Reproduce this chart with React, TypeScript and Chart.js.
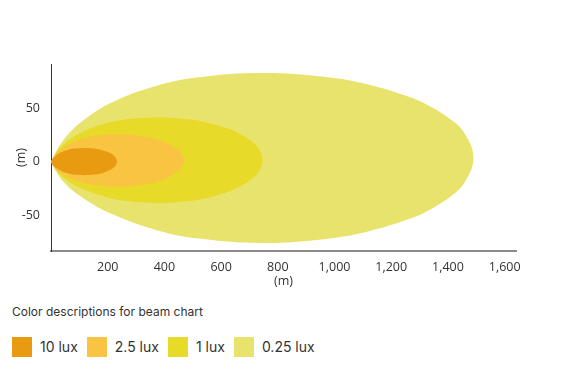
import React, { useEffect, useRef } from 'react';
import { Chart, registerables } from 'chart.js';

Chart.register(...registerables);

// Beam categories (drawn from the largest area to the smallest)
const BEAM_LABELS = ['10 lux', '2.5 lux', '1 lux', '0.25 lux'];
const BEAM_COLORS = ['#E89A10', '#F9C441', '#E7DA29', '#E8E36D'];

// Outline of each beam: distance (m), upper edge (m), lower edge (m)
const LUX10_X = [0, 7, 19, 35, 58, 82, 117, 151, 175, 198, 210, 221, 228, 233];
const LUX10_UP = [0, 3.3, 6.2, 8.9, 11.2, 12.5, 13.1, 12.5, 11.4, 9.4, 8.0, 5.9, 3.9, 0.3];
const LUX10_DOWN = [0, -3.1, -5.8, -8.3, -10.6, -11.9, -12.5, -11.9, -10.8, -8.8, -7.4, -5.3, -3.3, 0.3];

const LUX2_5_X = [0, 14, 37, 70, 117, 164, 234, 304, 351, 398, 421, 445, 459, 468];
const LUX2_5_UP = [0, 6.5, 12.3, 17.5, 22.2, 24.6, 25.9, 24.7, 22.5, 18.9, 16.05, 11.95, 8.15, 1.25];
const LUX2_5_DOWN = [0, -5.9, -10.9, -15.5, -19.8, -22.2, -23.4, -22.2, -20.0, -16.4, -13.55, -9.45, -5.65, 1.25];

const LUX1_X = [0, 22, 60, 112, 187, 261, 373, 485, 560, 634, 671, 709, 731, 746];
const LUX1_UP = [0, 10.5, 19.8, 28.2, 35.6, 39.6, 41.6, 39.8, 36.2, 30.2, 25.6, 19.0, 12.8, 1.6];
const LUX1_DOWN = [0, -9.5, -17.8, -25.4, -32.4, -36.4, -38.4, -36.6, -33.0, -27.0, -22.4, -15.8, -9.6, 1.6];

const LUX0_25_X = [0, 45, 119, 224, 373, 522, 745, 969, 1118, 1267, 1341, 1416, 1460, 1490];
const LUX0_25_UP = [0, 20.9, 39.9, 56.8, 71.3, 79.2, 83.2, 79.5, 72.5, 60.5, 51.4, 38.4, 26.0, 3.7];
const LUX0_25_DOWN = [0, -18.9, -34.9, -49.8, -63.9, -71.8, -75.8, -72.1, -65.1, -53.1, -44.0, -31.0, -18.6, 3.7];

// Axes
const X_MIN = 0;
const X_MAX = 1640;
const Y_MIN = -83.4;
const Y_MAX = 91.6;
const X_TICKS = [200, 400, 600, 800, 1000, 1200, 1400, 1600];
const Y_TICKS = [-50, 0, 50];
const X_TITLE = '(m)';
const Y_TITLE = '(m)';
const LEGEND_TITLE = 'Color descriptions for beam chart';

function outline(xs: number[], up: number[], down: number[]) {
  const top = xs.map((x, i) => ({ x, y: up[i] }));
  const bottom = xs
    .slice(0, -1)
    .map((x, i) => ({ x, y: down[i] }))
    .reverse();
  return top.concat(bottom);
}

const SHAPES = [
  outline(LUX10_X, LUX10_UP, LUX10_DOWN),
  outline(LUX2_5_X, LUX2_5_UP, LUX2_5_DOWN),
  outline(LUX1_X, LUX1_UP, LUX1_DOWN),
  outline(LUX0_25_X, LUX0_25_UP, LUX0_25_DOWN),
];

// Fills the closed outline path that Chart.js builds for each line dataset
const shapeFillPlugin = {
  id: 'shapeFill',
  beforeDatasetDraw(chart: any, args: any) {
    const meta = args.meta;
    const line = meta.dataset;
    if (!line) return;
    const ctx = chart.ctx;
    const area = chart.chartArea;
    line.updateControlPoints(area, 'x');
    ctx.save();
    ctx.beginPath();
    ctx.rect(area.left, area.top, area.right - area.left, area.bottom - area.top);
    ctx.clip();
    ctx.beginPath();
    line.path(ctx);
    ctx.closePath();
    ctx.fillStyle = chart.data.datasets[args.index].backgroundColor;
    ctx.fill();
    ctx.restore();
  },
};

const TICK_FONT = { family: "'Open Sans', sans-serif", size: 12.5 };

export default function App() {
  const ref = useRef<HTMLCanvasElement | null>(null);

  useEffect(() => {
    if (!ref.current) return;
    const chart = new Chart(ref.current, {
      type: 'line',
      data: {
        datasets: SHAPES.map((pts, i) => ({
          label: BEAM_LABELS[i],
          data: pts,
          backgroundColor: BEAM_COLORS[i],
          borderColor: 'rgba(0,0,0,0)',
          borderWidth: 0,
          pointRadius: 0,
          pointHoverRadius: 0,
          tension: 0.4,
          fill: false,
          order: i + 1,
        })),
      },
      options: {
        animation: false,
        responsive: false,
        devicePixelRatio: 1,
        events: [],
        layout: { padding: { left: 2, top: 56, right: 59, bottom: 5 } },
        plugins: {
          legend: { display: false },
          tooltip: { enabled: false },
          title: { display: false },
        },
        scales: {
          x: {
            type: 'linear',
            min: X_MIN,
            max: X_MAX,
            z: 1,
            afterBuildTicks: (scale: any) => {
              scale.ticks = X_TICKS.map((v) => ({ value: v }));
            },
            afterFit: (scale: any) => {
              scale.height = 42;
            },
            ticks: {
              autoSkip: false,
              maxRotation: 0,
              padding: 9,
              color: '#333',
              font: TICK_FONT,
              callback: (v: any) => Number(v).toLocaleString('en-US'),
            },
            grid: {
              color: 'rgba(255,255,255,0.4)',
              lineWidth: 1,
              drawTicks: false,
            },
            border: { display: true, color: '#8a8a8a', width: 2 },
            title: {
              display: true,
              text: X_TITLE,
              color: '#333',
              font: TICK_FONT,
              padding: { top: 4, bottom: 4 },
            },
          },
          y: {
            type: 'linear',
            min: Y_MIN,
            max: Y_MAX,
            z: 1,
            afterBuildTicks: (scale: any) => {
              scale.ticks = Y_TICKS.map((v) => ({ value: v }));
            },
            afterFit: (scale: any) => {
              scale.width = 41;
            },
            ticks: {
              autoSkip: false,
              padding: 11,
              color: '#333',
              font: TICK_FONT,
              callback: (v: any) => String(v),
            },
            grid: {
              color: 'rgba(255,255,255,0.4)',
              lineWidth: 1,
              drawTicks: false,
            },
            border: { display: true, color: '#333', width: 1 },
            title: {
              display: true,
              text: Y_TITLE,
              color: '#333',
              font: TICK_FONT,
              padding: { top: 4, bottom: 4 },
            },
          },
        },
      },
      plugins: [shapeFillPlugin],
    } as any);
    return () => chart.destroy();
  }, []);

  return (
    <div style={{ width: 567 }}>
      <canvas ref={ref} width={567} height={290} style={{ display: 'block', width: 567, height: 290 }} />
      <div style={{ padding: '6px 0 0 4px', fontFamily: "Inter, 'Noto Sans', sans-serif", color: '#333' }}>
        <div style={{ fontSize: 12, lineHeight: '15px', marginBottom: 18 }}>{LEGEND_TITLE}</div>
        <div style={{ display: 'flex', alignItems: 'center', height: 20 }}>
          {BEAM_LABELS.map((label, i) => (
            <div key={label} style={{ display: 'flex', alignItems: 'center', marginRight: 9 }}>
              <span
                style={{ display: 'inline-block', width: 20, height: 20, background: BEAM_COLORS[i], marginRight: 8 }}
              />
              <span style={{ fontSize: 14, lineHeight: '20px' }}>{label}</span>
            </div>
          ))}
        </div>
      </div>
    </div>
  );
}
